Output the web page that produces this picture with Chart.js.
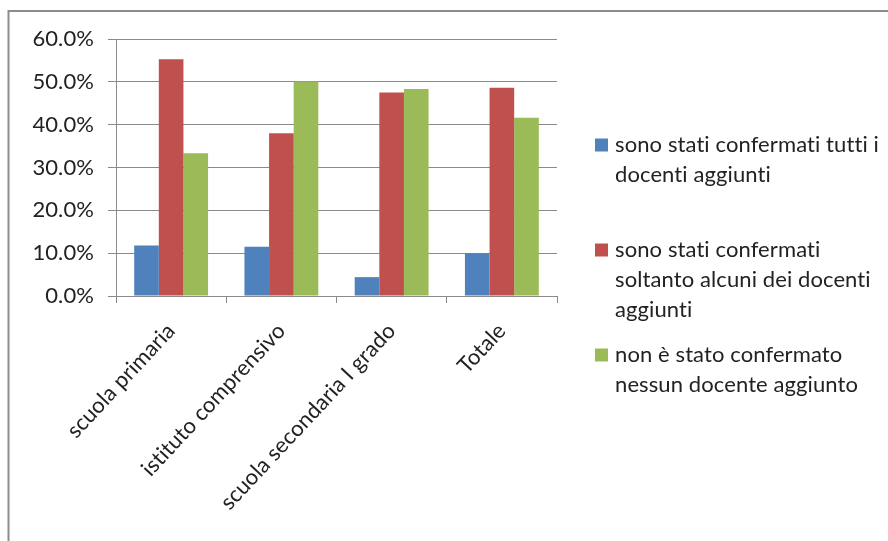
<!DOCTYPE html>
<html>
<head>
<meta charset="utf-8">
<script src="https://cdn.jsdelivr.net/npm/chart.js@4/dist/chart.umd.min.js"></script>
<style>
  html, body { margin: 0; padding: 0; background: #fff; }
  #wrap { width: 888px; height: 541px; position: relative; }
</style>
</head>
<body>
<div id="wrap"><canvas id="chart" width="888" height="541"></canvas></div>
<script>
// categories and series (percent)
const categories = ['scuola primaria', 'istituto comprensivo', 'scuola secondaria I grado', 'Totale'];
const tuttiConfermati = [11.8, 11.5, 4.4, 10.0];
const alcuniConfermati = [55.3, 38.0, 47.5, 48.6];
const nessunoConfermato = [33.3, 50.1, 48.3, 41.6];
const seriesLabels = [
  ['sono stati confermati tutti i', 'docenti aggiunti'],
  ['sono stati confermati', 'soltanto alcuni dei docenti', 'aggiunti'],
  ['non è stato confermato', 'nessun docente aggiunto']
];
const yTicks = [0, 10, 20, 30, 40, 50, 60];

const FONT = 'Lato';
const FSIZE = 22;
const GRID = '#8a8a8a';
const TEXT = '#222';

// grey frame around the chart object (only top and left edges show)
// plus a tiny letter spacing so "ti" is not drawn as a ligature
const framePlugin = {
  id: 'frame',
  beforeDraw(chart) {
    const ctx = chart.ctx;
    ctx.letterSpacing = '0.1px';
    ctx.save();
    ctx.strokeStyle = '#8c8c8c';
    ctx.lineWidth = 2;
    ctx.beginPath();
    ctx.moveTo(8.5, chart.height + 5);
    ctx.lineTo(8.5, 11);
    ctx.lineTo(chart.width + 5, 11);
    ctx.stroke();
    ctx.restore();
  }
};

// legend on the right with wrapped lines
const sideLegend = {
  id: 'sideLegend',
  afterDraw(chart) {
    const ctx = chart.ctx;
    const tops = [145, 250, 355];
    const lineH = 30;
    ctx.save();
    ctx.font = `${FSIZE}px ${FONT}`;
    ctx.textBaseline = 'middle';
    chart.data.datasets.forEach((ds, i) => {
      const y = tops[i];
      ctx.fillStyle = ds.backgroundColor;
      ctx.fillRect(595, y - 6.5, 13, 13);
      ctx.fillStyle = TEXT;
      ds.lines.forEach((line, j) => ctx.fillText(line, 615, y + j * lineH));
    });
    ctx.restore();
  }
};

const mkSet = (label, data, color) => ({
  label: label.join(' '),
  lines: label,
  data,
  backgroundColor: color,
  borderWidth: 0,
  barPercentage: 1.0,
  categoryPercentage: 0.67
});

new Chart(document.getElementById('chart'), {
  type: 'bar',
  data: {
    labels: categories,
    datasets: [
      mkSet(seriesLabels[0], tuttiConfermati, '#4f81bd'),
      mkSet(seriesLabels[1], alcuniConfermati, '#c0504d'),
      mkSet(seriesLabels[2], nessunoConfermato, '#9bbb59')
    ]
  },
  options: {
    responsive: false,
    animation: false,
    layout: { padding: { top: 39, right: 331, bottom: 0, left: 0 } },
    plugins: {
      legend: { display: false },
      tooltip: { enabled: false }
    },
    scales: {
      x: {
        offset: true,
        grid: { offset: true, drawOnChartArea: false, color: GRID, tickLength: 7, lineWidth: 1 },
        border: { color: GRID, width: 1 },
        ticks: {
          color: TEXT,
          font: { family: FONT, size: FSIZE },
          maxRotation: 47,
          minRotation: 47,
          autoSkip: false,
          padding: 15
        },
        afterFit: s => { s.height = 245; }
      },
      y: {
        min: 0,
        max: 60,
        afterBuildTicks: s => { s.ticks = yTicks.map(v => ({ value: v })); },
        grid: { color: GRID, tickLength: 8, lineWidth: 1 },
        border: { color: GRID, width: 1 },
        ticks: {
          color: TEXT,
          font: { family: FONT, size: FSIZE },
          padding: 14,
          callback: v => v.toFixed(1) + '%'
        },
        afterFit: s => { s.width = 116; }
      }
    }
  },
  plugins: [framePlugin, sideLegend]
});
</script>
</body>
</html>
